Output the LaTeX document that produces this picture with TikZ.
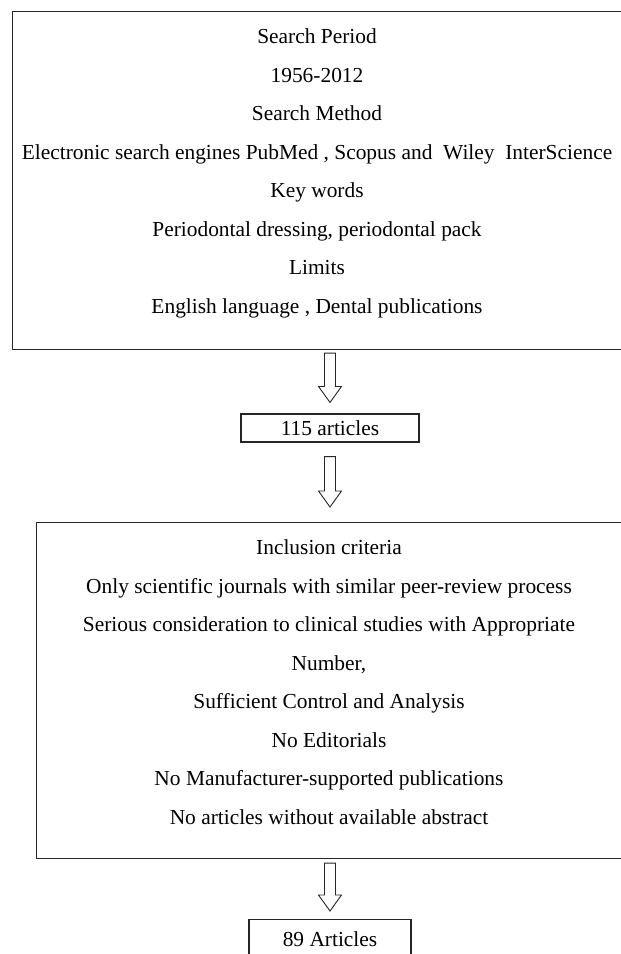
\documentclass[tikz,border=0pt]{standalone}
\usepackage{fontspec}
\setmainfont{Liberation Serif}
\usetikzlibrary{calc}
\tikzset{
  stagebox/.style={draw=black!85,line width=1.1pt,rectangle,inner sep=0pt},
  textline/.style={anchor=base,inner sep=0pt},
  hollow/.style={draw=black!85,line width=0.9pt,fill=white,line join=miter},
}
% hollow block arrow from #1 down to #2
\newcommand{\blockarrow}[2]{%
  \draw[hollow] let \p1=(#1),\p2=(#2) in
    (\x1-5.5,\y1)--(\x1+5.5,\y1)--(\x1+5.5,\y2+16)--(\x1+11.5,\y2+16)
    --(\x1,\y2)--(\x1-11.5,\y2+16)--(\x1-5.5,\y2+16)--cycle;}
\begin{document}
\begin{tikzpicture}[x=1pt,y=-1pt,font=\fontsize{21.4}{25}\selectfont]
  \useasboundingbox (0,0) rectangle (621,954);
  % search strategy
  \node[stagebox,anchor=north west,minimum width=611pt,minimum height=338pt] (search) at (12,11) {};
  \foreach \txt [count=\i] in {Search Period,1956-2012,Search Method,
      {Electronic search engines PubMed , Scopus and\ \ Wiley\ \ InterScience},
      Key words,{Periodontal dressing, periodontal pack},Limits,
      {English language , Dental publications}}{
    \node[textline] (s\i) at (317,5+38.5*\i) {\txt};
  }
  \node[stagebox,minimum width=178pt,minimum height=28pt] (found) at (330,428) {115 articles};
  % criteria
  \node[stagebox,anchor=north west,minimum width=587pt,minimum height=336pt] (incl) at (36,522) {};
  \foreach \txt [count=\i] in {Inclusion criteria,
      Only scientific journals with similar peer-review process,
      Serious consideration to clinical studies with Appropriate,
      {Number,},Sufficient Control and Analysis,No Editorials,
      No Manufacturer-supported publications,
      No articles without available abstract}{
    \node[textline] (c\i) at (329,516+38.5*\i) {\txt};
  }
  \node[stagebox,anchor=north,minimum width=162pt,minimum height=56pt] (final) at (330,919) {};
  \node[textline] (finaltxt) at (330,946) {89 Articles};
  % arrows
  \coordinate (a1) at ($(search.south -| found.north)+(0,3)$);
  \coordinate (b1) at ($(found.north)+(0,-11)$);
  \blockarrow{a1}{b1}
  \coordinate (a2) at ($(found.south)+(0,14)$);
  \coordinate (b2) at ($(incl.north -| found.north)+(0,-15)$);
  \blockarrow{a2}{b2}
  \coordinate (a3) at ($(incl.south -| final.north)+(0,4)$);
  \coordinate (b3) at ($(final.north)+(0,-8)$);
  \blockarrow{a3}{b3}
\end{tikzpicture}
\end{document}
